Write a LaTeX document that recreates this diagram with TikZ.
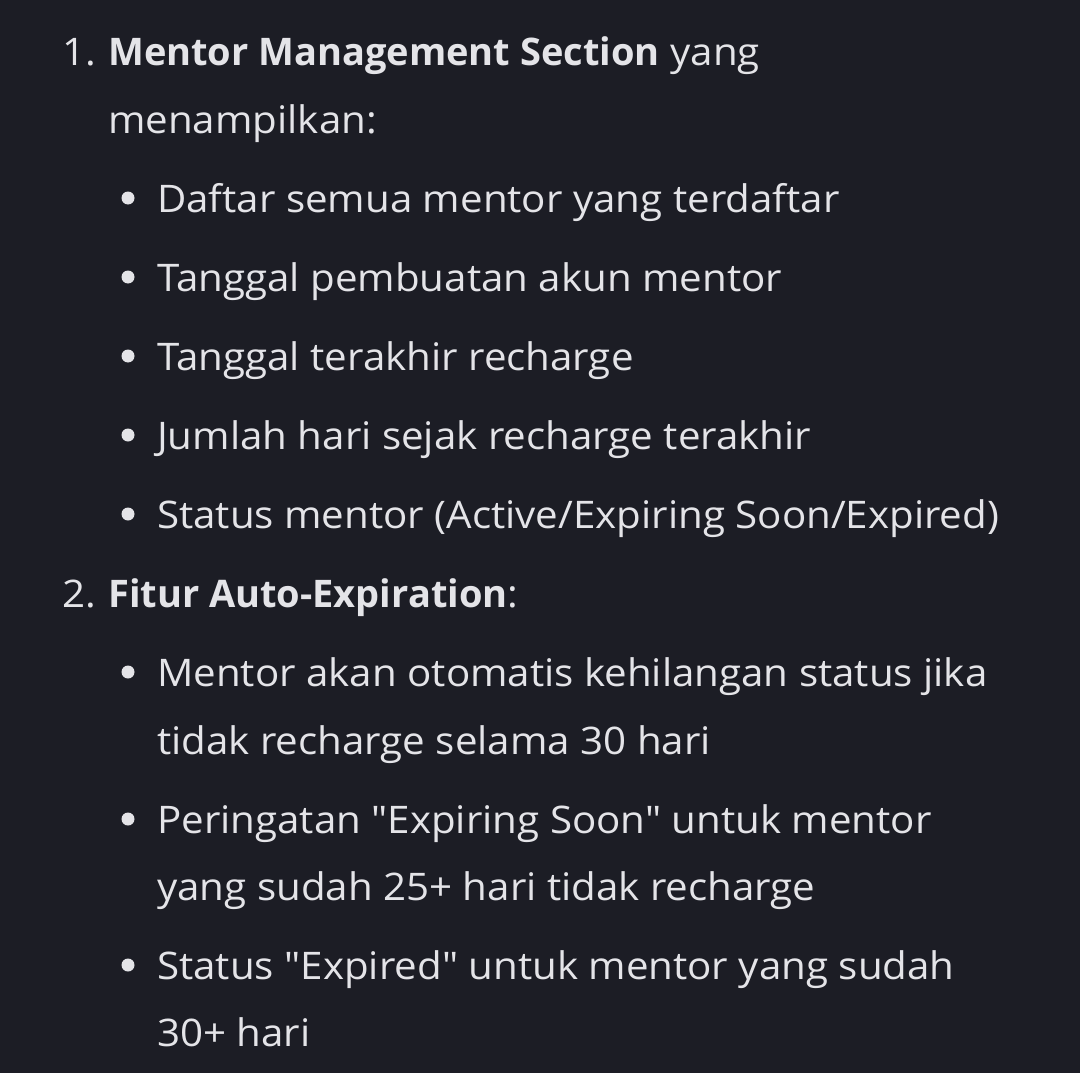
\documentclass[tikz,border=0pt]{standalone}
\usepackage{fontspec}
\setmainfont{Open Sans}[Ligatures=TeXOff, UprightFeatures={FakeStretch=1.06}, BoldFeatures={FakeStretch=1.0}]
\definecolor{page bg}{HTML}{1C1D25}
\definecolor{page text}{HTML}{E4E4E8}
\tikzset{line/.style={anchor=base west, inner sep=0pt, text=page text, font=\fontsize{38}{38}\selectfont},
    dot/.style={fill=page text, draw=none}}

\begin{document}
\begin{tikzpicture}[x=1pt, y=-1pt]
     \fill[page bg] (0,0) rectangle (1080,1073);
     \node[line] (n1) at (62,66) {1.};
     \node[line] (t1) at (108,66) {\textbf{Mentor Management Section} yang};
     \node[line] (t1b) at (108,133) {menampilkan:};
     \foreach \y/\txt [count=\i] in {212/{Daftar semua mentor yang terdaftar},
         291/{Tanggal pembuatan akun mentor},
         370/{Tanggal terakhir recharge},
         449/{Jumlah hari sejak recharge terakhir},
         528/{Status mentor (Active/Expiring Soon/Expired)}} {
          \fill[dot] (128,\y-14) circle (6.5);
          \node[line] (a\i) at (157,\y) {\txt};
     }
     \node[line] (n2) at (62,607) {2.};
     \node[line] (t2) at (108,607) {\textbf{Fitur Auto-Expiration}:};
     \foreach \y in {686,833,979} \fill[dot] (128,\y-14) circle (6.5);
     \node[line] (b1) at (157,686) {Mentor akan otomatis kehilangan status jika};
     \node[line] (b1b) at (157,754) {tidak recharge selama 30 hari};
     \node[line] (b2) at (157,833) {Peringatan "Expiring Soon" untuk mentor};
     \node[line] (b2b) at (157,900) {yang sudah 25+ hari tidak recharge};
     \node[line] (b3) at (157,979) {Status "Expired" untuk mentor yang sudah};
     \node[line] (b3b) at (157,1046) {30+ hari};
 \end{tikzpicture}
\end{document}
